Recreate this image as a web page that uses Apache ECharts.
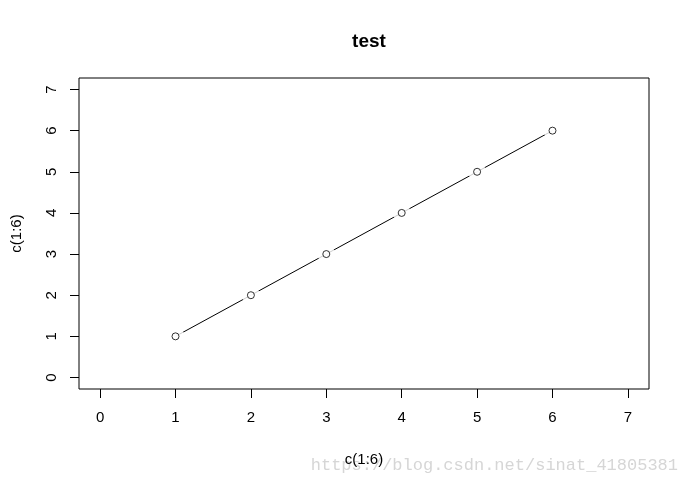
<!DOCTYPE html>
<html>
<head>
<meta charset="utf-8">
<script src="https://cdn.jsdelivr.net/npm/echarts@6/dist/echarts.min.js"></script>
<style>html,body{margin:0;padding:0;background:#fff}#c{width:690px;height:487px}</style>
</head>
<body>
<div id="c"></div>
<script>
var xValues = [1, 2, 3, 4, 5, 6];
var yValues = [1, 2, 3, 4, 5, 6];
var tickValues = [0, 1, 2, 3, 4, 5, 6, 7];
var titleText = 'test';
var xName = 'c(1:6)';
var yName = 'c(1:6)';
var watermark = 'https://blog.csdn.net/sinat_41805381';

var pts = xValues.map(function (x, i) { return [x, yValues[i]]; });
var font = 'Liberation Sans, Arial, sans-serif';
var chart = echarts.init(document.getElementById('c'), null, {renderer: 'canvas'});
var axisCommon = {
  type: 'value', min: -0.28, max: 7.28,
  axisLine: {show: false, onZero: false},
  splitLine: {show: false},
  axisTick: {show: true, inside: false, length: 9, customValues: tickValues, lineStyle: {color: '#000', width: 1}},
  nameLocation: 'middle',
  nameTextStyle: {color: '#000', fontSize: 15, fontFamily: font}
};
chart.setOption({
  animation: false,
  backgroundColor: '#fff',
  title: {text: titleText, left: 364, top: 27, textAlign: 'center',
    textStyle: {fontSize: 19, fontWeight: 'bold', color: '#000', fontFamily: font}},
  grid: {left: 79, right: 41, top: 78, bottom: 98, show: true, borderColor: '#000', borderWidth: 1, backgroundColor: 'transparent'},
  xAxis: Object.assign({}, axisCommon, {
    name: xName, nameGap: 63,
    axisLabel: {customValues: tickValues, margin: 21, color: '#000', fontSize: 15, fontFamily: font}
  }),
  yAxis: Object.assign({}, axisCommon, {
    name: yName, nameGap: 55,
    axisLabel: {customValues: tickValues, rotate: 90, margin: 20, color: '#000', fontSize: 15, fontFamily: font}
  }),
  graphic: [{type: 'text', right: 12, top: 457, style: {text: watermark, fill: '#d6d6d6', fontSize: 17, fontFamily: 'Liberation Mono, DejaVu Sans Mono, monospace'}}],
  series: [
    {type: 'line', data: pts, showSymbol: false, lineStyle: {color: '#000', width: 1}, z: 2},
    {type: 'scatter', data: pts, symbol: 'circle', symbolSize: 18, itemStyle: {color: '#fff', borderWidth: 0}, z: 3, silent: true},
    {type: 'scatter', data: pts, symbol: 'circle', symbolSize: 7, itemStyle: {color: '#fff', borderColor: '#000', borderWidth: 1}, z: 4}
  ]
});
</script>
</body>
</html>
